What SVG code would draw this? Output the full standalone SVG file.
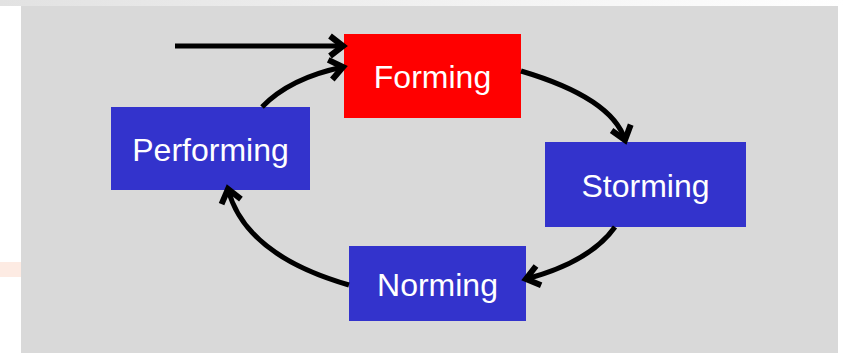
<svg xmlns="http://www.w3.org/2000/svg" width="846" height="353" viewBox="0 0 846 353">
<defs>
<linearGradient id="topband" x1="0" y1="0" x2="1" y2="0">
<stop offset="0" stop-color="#e2e2e2"/>
<stop offset="1" stop-color="#ffffff"/>
</linearGradient>
<marker id="chev" markerUnits="userSpaceOnUse" markerWidth="30" markerHeight="30" viewBox="-20 -15 30 30" refX="0" refY="0" orient="auto" overflow="visible">
<path d="M-13,-10 L0,0 L-13,10" fill="none" stroke="#000" stroke-width="6"/>
</marker>
</defs>
<style>
.node rect{stroke:none}
.node text{font-family:"Liberation Sans",Arial,sans-serif;font-size:32px;fill:#fff;text-anchor:middle}
.conn path{fill:none;stroke:#000;stroke-width:5;marker-end:url(#chev)}
</style>
<rect x="0" y="0" width="846" height="6" fill="url(#topband)"/>
<rect x="0" y="262" width="21" height="15" fill="#fdebe3"/>
<rect x="21" y="6" width="817" height="347" fill="#d9d9d9"/>
<g id="forming" class="node"><rect x="344" y="34" width="177" height="84" fill="#ff0000"/><text x="432.5" y="88">Forming</text></g>
<g id="performing" class="node"><rect x="111" y="107" width="199" height="83" fill="#3333cc"/><text x="210.5" y="161">Performing</text></g>
<g id="storming" class="node"><rect x="545" y="142" width="201" height="85" fill="#3333cc"/><text x="645.5" y="197">Storming</text></g>
<g id="norming" class="node"><rect x="349" y="246" width="177" height="75" fill="#3333cc"/><text x="437.5" y="296">Norming</text></g>
<g id="connectors" class="conn">
<path d="M175,46 L343,46"/>
<path d="M521,71 Q612,98 625,140"/>
<path d="M615,227 Q590,262 526,279"/>
<path d="M349,285 Q245,255 228,189"/>
<path d="M262,107 Q290,78 343,67"/>
</g>
</svg>
